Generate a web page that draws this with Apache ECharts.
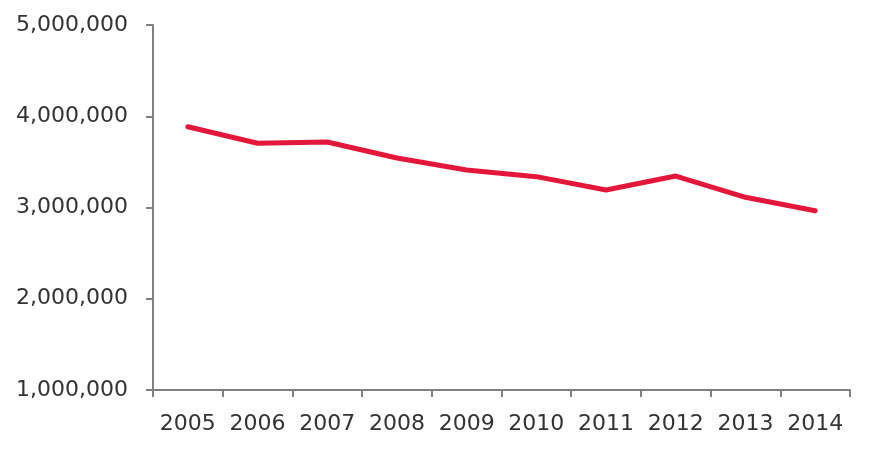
<!DOCTYPE html>
<html>
<head>
<meta charset="utf-8">
<script src="https://cdn.jsdelivr.net/npm/echarts@6/dist/echarts.min.js"></script>
<style>html,body{margin:0;padding:0;background:#fff;}#c{width:872px;height:449px;}</style>
</head>
<body>
<div id="c"></div>
<script>
const categories = ['2005','2006','2007','2008','2009','2010','2011','2012','2013','2014'];
const values = [3885000, 3704000, 3718000, 3542000, 3411000, 3338000, 3192000, 3345000, 3112000, 2965000];
const yTicks = [1000000, 2000000, 3000000, 4000000, 5000000];

const chart = echarts.init(document.getElementById('c'), null, {renderer: 'canvas'});
const fontFamily = '"DejaVu Sans", sans-serif';
chart.setOption({
  animation: false,
  backgroundColor: '#ffffff',
  grid: {left: 153, right: 22, top: 25, bottom: 59, containLabel: false},
  xAxis: {
    type: 'category',
    data: categories,
    boundaryGap: true,
    axisLine: {lineStyle: {color: '#808080', width: 2}},
    axisTick: {show: true, length: 7, interval: 0, lineStyle: {color: '#808080', width: 2}},
    axisLabel: {color: '#333333', fontSize: 22, fontFamily: fontFamily, fontWeight: 'normal', margin: 23, interval: 0}
  },
  yAxis: {
    type: 'value',
    min: yTicks[0],
    max: yTicks[yTicks.length - 1],
    interval: 1000000,
    axisLine: {show: true, lineStyle: {color: '#808080', width: 2}},
    axisTick: {show: true, length: 7, lineStyle: {color: '#808080', width: 2}},
    splitLine: {show: false},
    axisLabel: {
      color: '#333333', fontSize: 22, fontFamily: fontFamily, fontWeight: 'normal', margin: 25,
      formatter: v => v.toLocaleString('en-US')
    }
  },
  series: [{
    type: 'line',
    data: values,
    symbol: 'none',
    lineStyle: {color: '#e3173a', width: 5, cap: 'round', join: 'round'}
  }]
});
</script>
</body>
</html>
